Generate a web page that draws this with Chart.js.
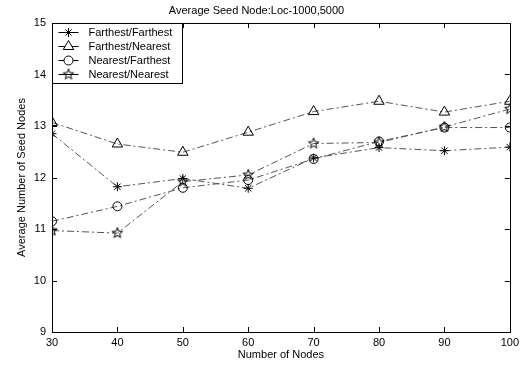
<!DOCTYPE html>
<html>
<head>
<meta charset="utf-8">
<script src="https://cdn.jsdelivr.net/npm/chart.js@4"></script>
<style>
  html, body { margin: 0; padding: 0; background: #fff; }
  #wrap { width: 523px; height: 367px; }
</style>
</head>
<body>
<div id="wrap"><canvas id="grafico" width="523" height="367"></canvas></div>
<script>
// Dados
const nodes = [30, 40, 50, 60, 70, 80, 90, 100];
const farFar = [12.85, 11.82, 11.98, 11.79, 12.38, 12.58, 12.52, 12.59];
const farNear = [13.07, 12.65, 12.49, 12.88, 13.28, 13.48, 13.27, 13.48];
const nearFar = [11.15, 11.44, 11.80, 11.95, 12.36, 12.70, 12.97, 12.97];
const nearNear = [10.97, 10.92, 11.92, 12.05, 12.66, 12.68, 12.98, 13.33];
const seriesNames = ["Farthest/Farthest", "Farthest/Nearest", "Nearest/Farthest", "Nearest/Nearest"];
const yTicks = [9, 10, 11, 12, 13, 14, 15];

const FONT = "'Liberation Sans', Arial, sans-serif";
const lineColor = "#555";
const dash = [7, 3, 2, 3];

// marcador estrela de 5 pontas (pentagrama)
function starMarker(r) {
  const c = document.createElement("canvas");
  const s = Math.ceil(r * 2 + 3);
  c.width = s; c.height = s;
  const g = c.getContext("2d");
  g.strokeStyle = "#000";
  g.lineWidth = 1;
  g.beginPath();
  for (let i = 0; i < 10; i++) {
    const rr = i % 2 === 0 ? r : r * 0.42;
    const a = -Math.PI / 2 + i * Math.PI / 5;
    const px = s / 2 + rr * Math.cos(a), py = s / 2 + rr * Math.sin(a);
    if (i === 0) g.moveTo(px, py); else g.lineTo(px, py);
  }
  g.closePath();
  g.stroke();
  return c;
}
const starImg = starMarker(5.5);

function serie(label, valores, style, radius) {
  return {
    label: label,
    data: nodes.map((n, i) => ({ x: n, y: valores[i] })),
    borderColor: lineColor,
    borderWidth: 1,
    borderDash: dash,
    pointStyle: style,
    pointRadius: radius,
    pointBorderColor: "#000",
    pointBackgroundColor: "rgba(0,0,0,0)",
    pointBorderWidth: 1,
    tension: 0
  };
}

// moldura, ticks internos e legenda no estilo MATLAB
const matlabBox = {
  id: "matlabBox",
  afterDraw(chart) {
    const ctx = chart.ctx;
    const a = chart.chartArea;
    const xs = chart.scales.x, ys = chart.scales.y;
    ctx.save();
    ctx.strokeStyle = "#000";
    ctx.lineWidth = 1;
    ctx.setLineDash([]);
    ctx.strokeRect(Math.round(a.left) + 0.5, Math.round(a.top) + 0.5,
      Math.round(a.right - a.left), Math.round(a.bottom - a.top));
    const tl = 5;
    ctx.beginPath();
    xs.ticks.forEach(t => {
      const px = Math.round(xs.getPixelForValue(t.value)) + 0.5;
      ctx.moveTo(px, a.bottom); ctx.lineTo(px, a.bottom - tl);
      ctx.moveTo(px, a.top); ctx.lineTo(px, a.top + tl);
    });
    ys.ticks.forEach(t => {
      const py = Math.round(ys.getPixelForValue(t.value)) + 0.5;
      ctx.moveTo(a.left, py); ctx.lineTo(a.left + tl, py);
      ctx.moveTo(a.right, py); ctx.lineTo(a.right - tl, py);
    });
    ctx.stroke();

    // legenda
    const bx = Math.round(a.left) + 0.5, by = Math.round(a.top) + 0.5;
    const bw = 130, bh = 60;
    ctx.fillStyle = "#fff";
    ctx.fillRect(bx, by, bw, bh);
    ctx.strokeRect(bx, by, bw, bh);
    ctx.font = "11px " + FONT;
    ctx.textBaseline = "middle";
    chart.data.datasets.forEach((ds, i) => {
      const yy = by + 9 + i * 14;
      ctx.strokeStyle = "#000";
      ctx.setLineDash([]);
      ctx.beginPath();
      ctx.moveTo(bx + 6, yy); ctx.lineTo(bx + 26, yy);
      ctx.stroke();
      ctx.fillStyle = "#fff";
      Chart.helpers.drawPoint(ctx, {
        pointStyle: ds.pointStyle, radius: ds.pointRadius, rotation: 0,
        borderWidth: 1
      }, bx + 16, yy);
      ctx.fillStyle = "#000";
      ctx.fillText(ds.label, bx + 36, yy);
    });
    ctx.restore();
  }
};

const ctx = document.getElementById("grafico").getContext("2d");
new Chart(ctx, {
  type: "line",
  data: {
    datasets: [
      serie(seriesNames[0], farFar, "star", 4.5),
      serie(seriesNames[1], farNear, "triangle", 6),
      serie(seriesNames[2], nearFar, "circle", 4.5),
      serie(seriesNames[3], nearNear, starImg, 5.5)
    ]
  },
  options: {
    responsive: false,
    animation: false,
    layout: { padding: { left: 0, right: 10, top: 0, bottom: 0 } },
    plugins: {
      legend: { display: false },
      tooltip: { enabled: false },
      title: {
        display: true,
        text: "Average Seed Node:Loc-1000,5000",
        color: "#000",
        font: { family: FONT, size: 11, weight: "normal", lineHeight: 1.2 },
        padding: { top: 4, bottom: 5.8 }
      }
    },
    scales: {
      x: {
        type: "linear",
        min: 30, max: 100,
        afterBuildTicks: s => { s.ticks = nodes.map(v => ({ value: v })); },
        afterFit: s => { s.height = 35; },
        grid: { drawOnChartArea: false, drawTicks: false },
        border: { display: false },
        ticks: { color: "#000", padding: 4, maxRotation: 0, font: { family: FONT, size: 11 } },
        title: {
          display: true, text: "Number of Nodes", color: "#000",
          font: { family: FONT, size: 11 }, padding: { top: 0, bottom: 5 }
        }
      },
      y: {
        min: 9, max: 15,
        afterBuildTicks: s => { s.ticks = yTicks.map(v => ({ value: v })); },
        afterFit: s => { s.width = 52; },
        grid: { drawOnChartArea: false, drawTicks: false },
        border: { display: false },
        ticks: { color: "#000", padding: 6, font: { family: FONT, size: 11 } },
        title: {
          display: true, text: "Average Number of Seed Nodes", color: "#000",
          font: { family: FONT, size: 11 }, padding: { top: 15, bottom: 0 }
        }
      }
    }
  },
  plugins: [matlabBox]
});
</script>
</body>
</html>
